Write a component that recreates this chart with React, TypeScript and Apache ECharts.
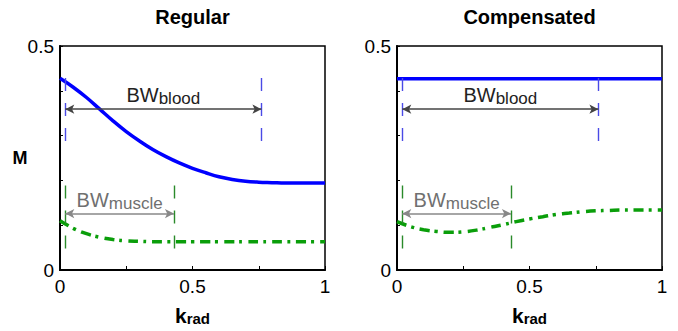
import React, { useEffect, useRef } from 'react';
import * as echarts from 'echarts';

// k_rad sample positions
const kValues = [0, 0.05, 0.1, 0.15, 0.2, 0.25, 0.3, 0.35, 0.4, 0.45, 0.5, 0.55, 0.6, 0.65, 0.7, 0.75, 0.8, 0.85, 0.9, 0.95, 1];

// Regular panel
const bloodRegular = [0.428, 0.408, 0.385, 0.359, 0.333, 0.309, 0.288, 0.269, 0.253, 0.239, 0.227, 0.217, 0.208, 0.202, 0.198, 0.196, 0.195, 0.194, 0.194, 0.194, 0.194];
const muscleRegular = [0.110, 0.093, 0.081, 0.073, 0.068, 0.065, 0.064, 0.063, 0.063, 0.063, 0.063, 0.063, 0.063, 0.063, 0.063, 0.063, 0.063, 0.063, 0.063, 0.063, 0.063];

// Compensated panel
const bloodCompensated = [0.427, 0.427, 0.427, 0.427, 0.427, 0.427, 0.427, 0.427, 0.427, 0.427, 0.427, 0.427, 0.427, 0.427, 0.427, 0.427, 0.427, 0.427, 0.427, 0.427, 0.427];
const muscleCompensated = [0.108, 0.097, 0.090, 0.086, 0.084, 0.085, 0.089, 0.095, 0.101, 0.108, 0.114, 0.119, 0.124, 0.127, 0.130, 0.132, 0.133, 0.134, 0.134, 0.134, 0.134];

// Bandwidth annotations: [start k, end k], vertical extent [low M, high M], arrow level M
const bloodBand = [0.02, 0.76];
const bloodExtent = [0.288, 0.431];
const bloodArrowLevel = 0.359;
const muscleBand = [0.02, 0.43];
const muscleExtent = [0.048, 0.197];
const muscleArrowLevel = 0.126;

const panelTitles = ['Regular', 'Compensated'];
const xTickLabels = ['0', '0.5', '1'];
const yTickLabels = ['0', '0.5'];

const FONT = 'Liberation Sans, Arial, sans-serif';

function bandLines(band: number[], extent: number[], level: number, dashColor: string, arrowColor: string, textColor: string, sub: string) {
  const dashStyle = { color: dashColor, width: 1.4, type: [13, 12] as any };
  return [
    [
      { coord: [band[0], extent[0]], lineStyle: dashStyle, symbol: 'none' },
      { coord: [band[0], extent[1]], symbol: 'none' },
    ],
    [
      { coord: [band[1], extent[0]], lineStyle: dashStyle, symbol: 'none' },
      { coord: [band[1], extent[1]], symbol: 'none' },
    ],
    [
      {
        coord: [band[0], level],
        symbol: 'arrow',
        symbolSize: [7, 9],
        lineStyle: { color: arrowColor, width: 1.5, type: 'solid' },
        label: {
          show: true,
          position: 'middle',
          distance: 2,
          formatter: '{a|BW}{b|' + sub + '}',
          rich: {
            a: { fontSize: 20, lineHeight: 24, color: textColor, fontFamily: FONT },
            b: { fontSize: 17, lineHeight: 17, padding: [7, 0, 0, 0], color: textColor, fontFamily: FONT },
          },
        },
      },
      { coord: [band[1], level], symbol: 'arrow', symbolSize: [7, 9] },
    ],
  ];
}

function makeXAxis(gridIndex: number) {
  return {
    type: 'value', gridIndex, min: 0, max: 1, interval: 0.25,
    axisLine: { show: true, onZero: false, lineStyle: { color: '#000', width: 2 } },
    axisTick: { show: true, inside: true, length: 4, lineStyle: { color: '#000', width: 1 } },
    splitLine: { show: false },
    axisLabel: {
      fontSize: 19, color: '#000', fontFamily: FONT, margin: 7,
      formatter: (v: number) => {
        const idx = [0, 0.5, 1].findIndex((t) => Math.abs(t - v) < 1e-9);
        return idx >= 0 ? xTickLabels[idx] : '';
      },
    },
  };
}

function makeYAxis(gridIndex: number) {
  return {
    type: 'value', gridIndex, min: 0, max: 0.5, interval: 0.1,
    axisLine: { show: true, onZero: false, lineStyle: { color: '#000', width: 2 } },
    axisTick: { show: true, inside: true, length: 3, lineStyle: { color: '#000', width: 1 } },
    splitLine: { show: false },
    axisLabel: {
      fontSize: 19, color: '#000', fontFamily: FONT, margin: 6,
      formatter: (v: number) => {
        const idx = [0, 0.5].findIndex((t) => Math.abs(t - v) < 1e-9);
        return idx >= 0 ? yTickLabels[idx] : '';
      },
    },
  };
}

function pairs(ys: number[]) {
  return kValues.map((k, i) => [k, ys[i]]);
}

function bloodSeries(idx: number, ys: number[]) {
  return {
    type: 'line', xAxisIndex: idx, yAxisIndex: idx, data: pairs(ys), smooth: 0.4,
    showSymbol: false, symbol: 'none', z: 3,
    lineStyle: { color: '#0000ff', width: 3.5 },
    markLine: {
      silent: true, animation: false, symbol: 'none', label: { show: false },
      data: bandLines(bloodBand, bloodExtent, bloodArrowLevel, '#4a4ae6', '#444444', '#222222', 'blood'),
    },
  };
}

function muscleSeries(idx: number, ys: number[]) {
  return {
    type: 'line', xAxisIndex: idx, yAxisIndex: idx, data: pairs(ys), smooth: 0.4,
    showSymbol: false, symbol: 'none', z: 3,
    lineStyle: { color: '#0a9e0a', width: 3.5, type: [10, 5, 3, 6], cap: 'butt' },
    markLine: {
      silent: true, animation: false, symbol: 'none', label: { show: false },
      data: bandLines(muscleBand, muscleExtent, muscleArrowLevel, '#2a8a2a', '#888888', '#707070', 'muscle'),
    },
  };
}

function textEl(x: number, y: number, text: string, size: number, bold: boolean) {
  return {
    type: 'text', x, y, silent: true,
    style: {
      text, fill: '#000', font: `${bold ? 'bold ' : ''}${size}px ${FONT}`,
      textAlign: 'center', textVerticalAlign: 'middle', align: 'center', verticalAlign: 'middle',
    },
  };
}

function kradEl(x: number, y: number) {
  return {
    type: 'text', x, y, silent: true,
    style: {
      text: '{a|k}{b|rad}', fill: '#000',
      textAlign: 'center', textVerticalAlign: 'middle', align: 'center', verticalAlign: 'middle',
      rich: {
        a: { fontSize: 21, fontWeight: 'bold', lineHeight: 24, fontFamily: FONT, fill: '#000' },
        b: { fontSize: 15, fontWeight: 'bold', lineHeight: 15, padding: [8, 0, 1, 0], fontFamily: FONT, fill: '#000' },
      },
    },
  };
}

export default function App() {
  const ref = useRef<HTMLDivElement>(null);
  useEffect(() => {
    const chart = echarts.init(ref.current!, null, { renderer: 'svg' });
    const grids = [
      { left: 60, top: 46, width: 265, height: 224 },
      { left: 397, top: 46, width: 265, height: 224 },
    ];
    chart.setOption({
      animation: false,
      backgroundColor: '#ffffff',
      grid: grids.map((g) => ({ ...g, show: true, borderColor: '#000', borderWidth: 1.5, backgroundColor: 'transparent' })),
      xAxis: [makeXAxis(0), makeXAxis(1)],
      yAxis: [makeYAxis(0), makeYAxis(1)],
      series: [
        bloodSeries(0, bloodRegular),
        muscleSeries(0, muscleRegular),
        bloodSeries(1, bloodCompensated),
        muscleSeries(1, muscleCompensated),
      ],
      graphic: [
        textEl(192.5, 16.5, panelTitles[0], 20, true),
        textEl(529.5, 16.5, panelTitles[1], 20, true),
        textEl(20, 157.5, 'M', 18, true),
        kradEl(192.5, 315),
        kradEl(529.5, 315),
      ],
    });
    return () => chart.dispose();
  }, []);
  return <div ref={ref} style={{ position: 'absolute', left: 0, top: 0, width: 678, height: 331 }} />;
}
